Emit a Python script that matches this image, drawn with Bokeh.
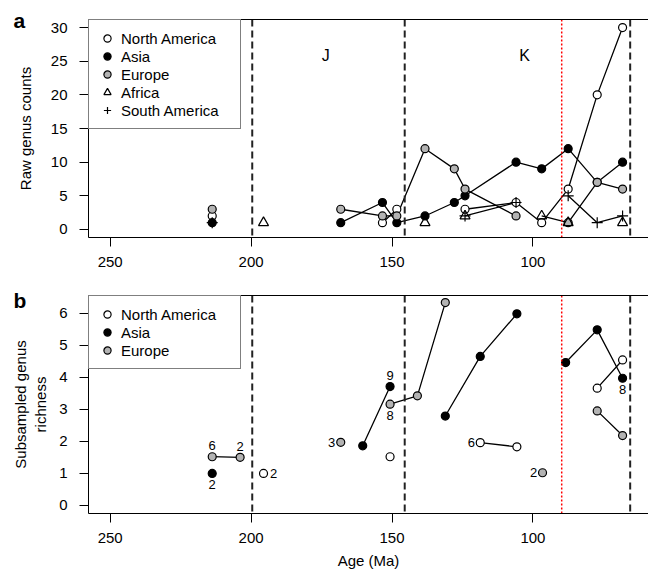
from bokeh.plotting import figure
from bokeh.layouts import column
from bokeh.models import (Range1d, LinearAxis, FixedTicker, Span, Legend,
                          LegendItem, ColumnDataSource)
from bokeh.core.properties import value
from bokeh.embed import file_html
from bokeh.resources import INLINE

nan = float("nan")

# ---------------- data: panel a (raw genus counts) ----------------
raw_age = [213.8, 195.6, 168.2, 153.4, 148.3, 138.3, 127.9, 124.1, 106.0, 96.9, 87.5, 77.2, 68.2]
raw_north_america = [2, nan, nan, 1, 3, nan, nan, 3, 4, 1, 6, 20, 30]
raw_asia = [1, nan, 1, 4, 1, 2, 4, 5, 10, 9, 12, 7, 10]
raw_europe = [3, nan, 3, 2, 2, 12, 9, 6, 2, nan, 1, 7, 6]
raw_africa = [nan, 1, nan, nan, nan, 1, nan, 2, nan, 2, 1, nan, 1]
raw_south_america = [1, nan, nan, nan, nan, nan, nan, 2, 4, nan, 5, 1, 2]

# ---------------- data: panel b (subsampled richness) ----------------
sub_age = [213.8, 203.9, 195.6, 168.2, 160.4, 150.7, 141.0, 131.1, 118.7, 105.7, 96.6, 88.4, 77.2, 68.2]
sub_north_america = [nan, nan, 1.0, nan, nan, 1.52, nan, nan, 1.96, 1.83, nan, nan, 3.66, 4.54]
sub_asia = [1.0, nan, nan, nan, 1.86, 3.71, nan, 2.79, 4.65, 5.98, nan, 4.46, 5.48, 3.97]
sub_europe = [1.52, 1.5, nan, 1.97, nan, 3.16, 3.42, 6.33, nan, nan, 1.02, nan, 2.95, 2.18]

# sample-size annotations in panel b
ann_text = ["6", "2", "2", "2", "3", "9", "8", "6", "2", "8"]
ann_age = [213.8, 203.9, 213.8, 195.6, 168.2, 150.7, 150.7, 118.7, 96.6, 68.2]
ann_value = [1.52, 1.5, 1.0, 1.0, 1.97, 3.71, 3.16, 1.96, 1.02, 3.97]
ann_side = ["above", "above", "below", "right", "left", "above", "below", "left", "left", "below"]

boundaries = [199.6, 145.5, 65.5]
red_boundary = 89.8
period_names = ["J", "K"]
period_age = [173.5, 103.0]
period_level = 25.8

x_ticks = [250, 200, 150, 100]
raw_ticks = [0, 5, 10, 15, 20, 25, 30]
sub_ticks = [0, 1, 2, 3, 4, 5, 6]

FONT = "Liberation Sans"
GRAY = "#B3B3B3"
TXT = "black"


def make_fig(yr, top, bottom, letter, letter_standoff, ylab_standoff):
    p = figure(width=648, height=288, x_range=Range1d(257.7, 59.0), y_range=yr,
               output_backend="svg", toolbar_location=None, tools="",
               min_border_left=88, min_border_right=0,
               min_border_top=top, min_border_bottom=bottom)
    p.xgrid.visible = False
    p.ygrid.visible = False
    p.outline_line_color = None
    p.background_fill_color = "white"
    p.border_fill_color = "white"
    for ax in p.axis:
        ax.axis_line_color = "black"
        ax.axis_line_width = 1
        ax.major_tick_line_color = "black"
        ax.major_tick_out = 9
        ax.major_tick_in = 0
        ax.minor_tick_line_color = None
        ax.major_label_text_font = FONT
        ax.major_label_text_font_size = "15px"
        ax.major_label_text_color = TXT
        ax.axis_label_text_font = FONT
        ax.axis_label_text_font_size = "15px"
        ax.axis_label_text_font_style = "normal"
        ax.axis_label_text_color = TXT
    p.xaxis.ticker = FixedTicker(ticks=x_ticks)
    p.xaxis.major_label_standoff = 10
    p.xaxis.axis_label_standoff = 6
    p.yaxis.major_label_standoff = 12
    p.yaxis.axis_label_standoff = ylab_standoff
    top_ax = LinearAxis(ticker=FixedTicker(ticks=[]), major_tick_line_color=None,
                        minor_tick_line_color=None, major_label_text_font_size="0px",
                        major_tick_out=0, major_tick_in=0,
                        axis_line_color="black")
    p.add_layout(top_ax, "above")
    # panel letter
    p.title.text = letter
    p.title.align = "left"
    p.title.offset = -75
    p.title.standoff = letter_standoff
    p.title.text_font = FONT
    p.title.text_font_size = "21px"
    p.title.text_font_style = "bold"
    p.title.text_color = "black"
    for b in boundaries:
        p.add_layout(Span(location=b, dimension="height", line_color="#222222",
                          line_width=2, line_dash="7 4", level="glyph"))
    p.add_layout(Span(location=red_boundary, dimension="height", line_color="red",
                      line_width=1.5, line_dash="2 2", level="glyph"))
    return p


def make_legend(p, items):
    leg = Legend(items=items, location="top_left", margin=0, padding=9, spacing=0,
                 glyph_height=18, glyph_width=18, label_height=18, label_standoff=5,
                 label_width=110, label_text_font=FONT, label_text_font_size="15px",
                 label_text_color=TXT, border_line_color="black", border_line_width=1,
                 background_fill_color="white", background_fill_alpha=1.0)
    p.add_layout(leg)


# ---------------- panel a ----------------
p1 = make_fig(Range1d(-1.2, 31.2), 19, 51, "a", -24, 14)
p1.yaxis.ticker = FixedTicker(ticks=raw_ticks)
p1.yaxis.axis_label = "Raw genus counts"

series_a = [
    ("North America", raw_north_america, "circle", "white", 8),
    ("Asia", raw_asia, "circle", "black", 8),
    ("Europe", raw_europe, "circle", GRAY, 8),
    ("Africa", raw_africa, "triangle", None, 10),
    ("South America", raw_south_america, "cross", None, 11),
]
for name, ys, m, fc, sz in series_a:
    p1.line(raw_age, ys, line_color="black", line_width=1.3)
items = []
for name, ys, m, fc, sz in series_a:
    r = p1.scatter(raw_age, ys, marker=m, size=sz, fill_color=fc, line_color="black",
                   line_width=1.2)
    items.append(LegendItem(label=name, renderers=[r]))
make_legend(p1, items)

src_p = ColumnDataSource(dict(x=period_age, y=[period_level] * len(period_age), t=period_names))
p1.text(x="x", y="y", text="t", source=src_p, text_align="center", text_baseline="middle",
        text_font=value(FONT), text_font_size="16px", text_color=TXT)

# ---------------- panel b ----------------
p2 = make_fig(Range1d(-0.252, 6.552), 7, 63, "b", -33, 7)
p2.yaxis.ticker = FixedTicker(ticks=sub_ticks)
p2.yaxis.axis_label = "Subsampled genus\nrichness"
p2.below[0].axis_label = "Age (Ma)"

series_b = [
    ("North America", sub_north_america, "white"),
    ("Asia", sub_asia, "black"),
    ("Europe", sub_europe, GRAY),
]
for name, ys, fc in series_b:
    p2.line(sub_age, ys, line_color="black", line_width=1.3)
items = []
for name, ys, fc in series_b:
    r = p2.scatter(sub_age, ys, marker="circle", size=8, fill_color=fc,
                   line_color="black", line_width=1.2)
    items.append(LegendItem(label=name, renderers=[r]))
make_legend(p2, items)

side_off = {"above": (0, -11), "below": (0, 11), "left": (-9, 0), "right": (10, 0)}
for t, xa, yv, s in zip(ann_text, ann_age, ann_value, ann_side):
    dx, dy = side_off[s]
    p2.text(x=[xa], y=[yv], text=[t], x_offset=dx, y_offset=dy, text_align="center",
            text_baseline="middle", text_font=value(FONT), text_font_size="13px",
            text_color=TXT)

layout = column(p1, p2, spacing=0)
open("out.html", "w").write(file_html(layout, INLINE))
